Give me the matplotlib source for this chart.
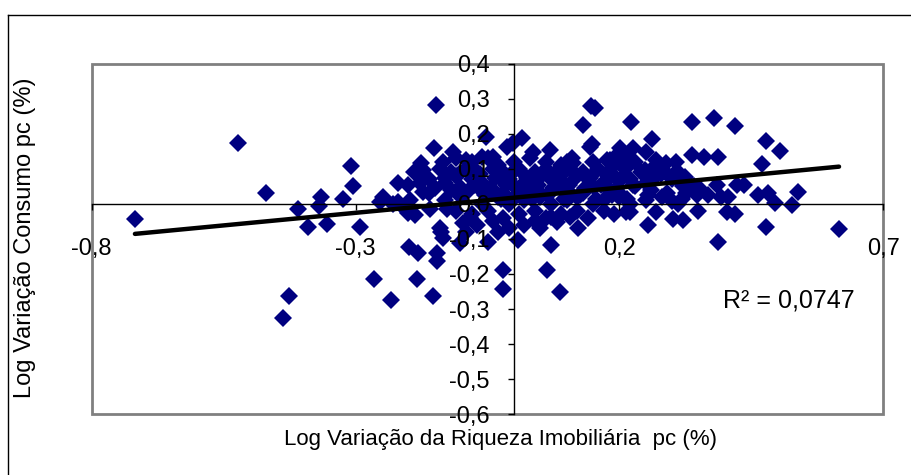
import matplotlib
matplotlib.use('Agg')
import matplotlib.pyplot as plt
import numpy as np
from matplotlib.lines import Line2D

plt.rcParams['font.family'] = ['Liberation Sans', 'DejaVu Sans']

# scattered points (x = wealth, y = consumption)
outer_x = [-0.718, -0.523, -0.470, -0.409, -0.390, -0.366, -0.369, -0.355, -0.324, -0.309,
           -0.304, -0.292, -0.426, -0.438, -0.266, -0.233, -0.254, -0.248, -0.219, -0.197,
           -0.200, -0.188, -0.198, -0.181, -0.184, -0.153, -0.146, -0.145, -0.138, -0.134,
           -0.102, -0.090, -0.049, -0.020, -0.020, -0.083, -0.096, -0.140, -0.030, -0.148,
           -0.152, -0.052, -0.176, -0.172, -0.200, -0.178, -0.172, -0.150, -0.159, -0.127,
           -0.134, -0.115, -0.131, -0.090, -0.061, -0.039, -0.014, -0.102, -0.102, -0.001,
           0.015, 0.037, 0.068, 0.147, 0.153, 0.131, 0.222, 0.144, 0.148, 0.201,
           0.226, 0.182, 0.100, 0.112, 0.071, 0.062, 0.087, 0.008, 0.122, 0.106,
           0.081, 0.071, 0.213, 0.387, 0.477, 0.616, 0.254, 0.302, 0.321, 0.349,
           0.403, 0.419, 0.494, 0.526, 0.220, 0.270, 0.338, 0.379, 0.419, 0.477,
           0.504, 0.261, 0.338, 0.360, 0.386, 0.470, 0.538, 0.463, 0.482, 0.422,
           0.436, 0.384, 0.368, 0.393, 0.406, 0.324, 0.251, 0.176, 0.194, 0.213,
           0.270, 0.289, 0.308, 0.341, 0.347, 0.304, 0.316, 0.248, 0.279, 0.326,
           0.353, 0.299, 0.318, 0.255, -0.220, -0.170, -0.160, -0.190, -0.230, -0.210]
outer_y = [-0.044, 0.173, 0.032, -0.014, -0.065, 0.019, -0.005, -0.057, 0.013, 0.109,
           0.051, -0.065, -0.262, -0.327, -0.214, -0.274, 0.007, 0.021, 0.007, 0.011,
           -0.027, -0.031, -0.122, -0.139, -0.215, -0.262, -0.141, -0.163, -0.079, -0.098,
           -0.112, -0.079, -0.108, -0.189, -0.244, -0.041, -0.055, -0.069, -0.079, 0.282,
           0.159, 0.191, 0.116, 0.097, 0.054, 0.059, 0.035, 0.045, -0.015, -0.015,
           0.121, 0.149, 0.073, 0.126, 0.135, 0.135, 0.164, 0.088, 0.049, 0.173,
           0.188, 0.149, 0.154, 0.280, 0.274, 0.226, 0.235, 0.164, 0.170, 0.159,
           0.159, 0.126, 0.121, 0.116, -0.117, -0.189, -0.251, -0.103, -0.069, -0.036,
           -0.051, -0.036, -0.022, -0.110, -0.067, -0.072, -0.060, -0.043, -0.046, -0.019,
           -0.022, -0.029, 0.002, -0.003, -0.022, -0.022, 0.235, 0.245, 0.223, 0.180,
           0.151, 0.185, 0.140, 0.135, 0.133, 0.114, 0.035, 0.026, 0.031, 0.054,
           0.054, 0.054, 0.026, 0.021, 0.021, 0.078, 0.149, 0.126, 0.116, 0.131,
           0.126, 0.116, 0.121, 0.050, 0.026, 0.087, 0.063, 0.097, 0.087, 0.030,
           0.043, 0.009, 0.015, 0.026, 0.060, 0.080, 0.030, 0.090, 0.000, -0.010]

# dense central cloud
core_x = [-0.11, -0.08, -0.05, -0.03, 0.00, 0.03, 0.06, 0.09, 0.11, 0.15, 0.19, 0.23, 0.27,
          -0.14, -0.12, -0.09, -0.07, -0.04, -0.02, 0.01, 0.04, 0.06, 0.08, 0.10, 0.13, 0.16, 0.18, 0.21, 0.24, 0.28, 0.31,
          -0.16, -0.13, -0.11, -0.08, -0.06, -0.03, -0.01, 0.02, 0.04, 0.07, 0.09, 0.12, 0.14, 0.17, 0.19, 0.22, 0.25, 0.27, 0.30, 0.33,
          -0.12, -0.09, -0.07, -0.04, -0.02, 0.00, 0.03, 0.05, 0.08, 0.10, 0.13, 0.15, 0.18, 0.20, 0.23, 0.26, 0.29, 0.32, 0.35,
          -0.13, -0.10, -0.06, -0.03, -0.01, 0.02, 0.05, 0.07, 0.10, 0.12, 0.15, 0.17, 0.20, 0.22, 0.25, 0.28, 0.31,
          -0.11, -0.08, -0.05, -0.02, 0.01, 0.04, 0.06, 0.09, 0.12, 0.14, 0.17, 0.19,
          -0.07, -0.04, -0.01, 0.02, 0.04, 0.05,
          -0.065, -0.035, -0.005, 0.025, 0.055, 0.085, 0.115, 0.145, 0.175, 0.205,
          -0.075, -0.045, -0.015, 0.015, 0.045, 0.075, 0.105, 0.135, 0.165, 0.195, 0.225,
          -0.055, -0.025, 0.005, 0.035, 0.065, 0.095, 0.125, 0.155, 0.185, 0.215]
core_y = [0.13, 0.12, 0.13, 0.11, 0.12, 0.13, 0.12, 0.11, 0.13, 0.12, 0.13, 0.12, 0.11,
          0.10, 0.09, 0.10, 0.09, 0.10, 0.09, 0.10, 0.09, 0.10, 0.09, 0.10, 0.09, 0.10, 0.09, 0.10, 0.09, 0.10, 0.09,
          0.07, 0.06, 0.08, 0.07, 0.06, 0.08, 0.07, 0.06, 0.08, 0.07, 0.06, 0.08, 0.07, 0.06, 0.08, 0.07, 0.06, 0.08, 0.07, 0.06,
          0.04, 0.03, 0.05, 0.04, 0.03, 0.05, 0.04, 0.03, 0.05, 0.04, 0.03, 0.05, 0.04, 0.03, 0.05, 0.04, 0.03, 0.05, 0.04,
          0.01, 0.02, 0.00, 0.02, 0.00, 0.01, 0.02, 0.00, 0.01, 0.02, 0.00, 0.01, 0.02, 0.00, 0.01, 0.02, 0.00,
          -0.02, -0.03, -0.02, -0.04, -0.03, -0.02, -0.04, -0.03, -0.02, -0.04, -0.02, -0.03,
          -0.06, -0.05, -0.07, -0.06, -0.05, -0.07,
          0.085, 0.075, 0.085, 0.075, 0.085, 0.075, 0.085, 0.075, 0.085, 0.075,
          0.055, 0.045, 0.055, 0.045, 0.055, 0.045, 0.055, 0.045, 0.055, 0.045, 0.055,
          0.025, 0.015, 0.025, 0.015, 0.025, 0.015, 0.025, 0.015, 0.025, 0.015]

# linear trend as shown on the chart
trend_slope = 0.144
trend_intercept = 0.018
r2_label = 'R² = 0,0747'

xticks = [-0.8, -0.3, 0.2, 0.7]
xtick_labels = ['-0,8', '-0,3', '0,2', '0,7']
yticks = [0.4, 0.3, 0.2, 0.1, 0.0, -0.1, -0.2, -0.3, -0.4, -0.5, -0.6]
ytick_labels = ['0,4', '0,3', '0,2', '0,1', '0,0', '-0,1', '-0,2', '-0,3', '-0,4', '-0,5', '-0,6']

x = np.array(outer_x + core_x)
y = np.array(outer_y + core_y)

fig = plt.figure(figsize=(9.12, 4.75), dpi=100)
ax = fig.add_axes([0.1005, 0.1284, 0.8681, 0.7369])

ax.plot(x, y, linestyle='none', marker='D', markersize=9.5, color='#000080',
        markeredgewidth=0, zorder=2)

# trend line across the data range
tx = np.array([x.min(), x.max()])
ax.plot(tx, trend_slope * tx + trend_intercept, color='black', linewidth=3.2,
        solid_capstyle='round', zorder=2.2)

ax.set_xlim(-0.8, 0.7)
ax.set_ylim(-0.6, 0.4)
ax.set_axisbelow(False)

# axes crossing at zero, plot area framed in grey
for side in ['top', 'right']:
    ax.spines[side].set_visible(False)
ax.spines['left'].set_position(('data', 0))
ax.spines['bottom'].set_position(('data', 0))
ax.spines['left'].set_linewidth(1.0)
ax.spines['bottom'].set_linewidth(1.0)
frame = plt.Rectangle((0, 0), 1, 1, transform=ax.transAxes, fill=False,
                      edgecolor='#808080', linewidth=2, zorder=0.5, clip_on=False)
ax.add_patch(frame)

ax.set_xticks(xticks)
ax.set_xticklabels(xtick_labels)
ax.set_yticks(yticks)
ax.set_yticklabels(ytick_labels)
ax.tick_params(axis='x', direction='out', length=4.5, width=1, pad=20, labelsize=17)
ax.tick_params(axis='y', direction='out', length=4.5, width=1, pad=13, labelsize=17)

ax.text(0.52, -0.275, r2_label, fontsize=18, ha='center', va='center')

fig.text(0.549, 0.074, 'Log Variação da Riqueza Imobiliária  pc (%)', fontsize=16,
         ha='center', va='center')
fig.text(0.027, 0.50, 'Log Variação Consumo pc (%)', fontsize=17, rotation=90,
         ha='center', va='center')

# outer chart border
x0, y0 = 8 / 912, 1 - 15 / 475
fig.add_artist(Line2D([x0, 1.0], [y0, y0], color='black', linewidth=1.0))
fig.add_artist(Line2D([x0, x0], [0.0, y0], color='black', linewidth=1.0))

fig.savefig('out.png', dpi=100, facecolor='white')
